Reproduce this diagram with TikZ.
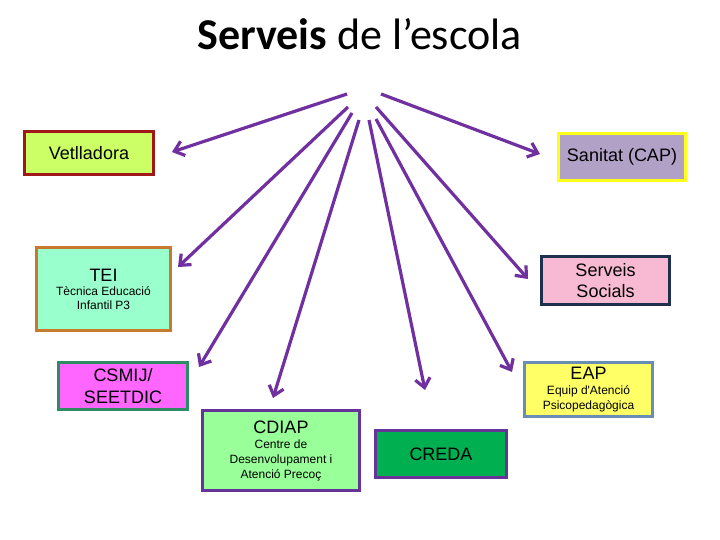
\documentclass[tikz,border=0pt]{standalone}
\usepackage{fontspec}
\setmainfont{Liberation Sans}
\newfontfamily\titlefont{Carlito}
\usepackage{xcolor}
\definecolor{purple1}{HTML}{7030A0}
\definecolor{lime1}{HTML}{CCFF66}
\definecolor{maroon1}{HTML}{A01818}
\definecolor{lilac1}{HTML}{B2A1C7}
\definecolor{yellow1}{HTML}{FFFF1A}
\definecolor{aqua1}{HTML}{99FFCC}
\definecolor{orange1}{HTML}{C8792E}
\definecolor{pink1}{HTML}{F8B9D2}
\definecolor{navy1}{HTML}{1F2F4F}
\definecolor{magenta1}{HTML}{FF66FF}
\definecolor{green1}{HTML}{2E8B62}
\definecolor{mint1}{HTML}{99FF99}
\definecolor{green2}{HTML}{00B050}
\definecolor{plum1}{HTML}{663399}
\definecolor{lemon1}{HTML}{FFFF66}
\definecolor{steel1}{HTML}{6A8DB5}
\usetikzlibrary{arrows.meta}
\newcommand{\subf}{\fontsize{12}{14}\selectfont}

\begin{document}
\begin{tikzpicture}[
  x=1pt, y=-1pt,
  svc/.style 2 args = {draw=#1, fill=#2, line width=3pt, inner sep=2pt,
                       align=center, text=black,
                       font=\fontsize{18}{21.5}\selectfont},
  svcsub/.style 2 args = {svc={#1}{#2}, font=\fontsize{18}{16}\selectfont},
  arr/.style    = {draw=purple1, line width=3.2pt,
                   -{Straight Barb[length=9pt, width=15pt]}}
]
\path[fill=white] (0,0) rectangle (720,540);
\useasboundingbox (0,0) rectangle (720,540);

% Title
\node[anchor=base, font=\titlefont\fontsize{44}{48}\selectfont]
      (title) at (359.5,50) {\textbf{Serveis} de l’escola};

% Services (left column)
\node[svc={maroon1}{lime1}, minimum width=129pt, minimum height=43pt]
      (vet) at (89,153) {Vetlladora};
\node[svcsub={orange1}{aqua1}, minimum width=134pt, minimum height=83pt]
      (tei) at (103.5,289) {TEI\\[-2pt]\subf Tècnica Educació\\[-2pt]\subf Infantil P3};
\node[svc={green1}{magenta1}, minimum width=129pt, minimum height=47pt]
      (csmij) at (123,386) {CSMIJ/\\SEETDIC};
\node[svcsub={plum1}{mint1}, minimum width=157pt, minimum height=80pt]
      (cdiap) at (281,450.5) {CDIAP\\[-1pt]\subf Centre de\\[-1pt]\subf Desenvolupament i\\[-1pt]\subf Atenció Precoç};

% Services (right column)
\node[svc={yellow1}{lilac1}, minimum width=127pt, minimum height=47pt]
      (cap) at (622,157) {Sanitat (CAP)};
\node[svc={navy1}{pink1}, minimum width=128pt, minimum height=48pt]
      (ss) at (605.5,280.5) {Serveis\\Socials};
\node[svcsub={steel1}{lemon1}, minimum width=128pt, minimum height=54pt]
      (eap) at (588.5,389.5) {EAP\\[-1pt]\subf Equip d\textquotesingle Atenció\\[-1pt]\subf Psicopedagògica};
\node[svc={plum1}{green2}, minimum width=131pt, minimum height=47pt]
      (creda) at (441,454) {CREDA};

% Arrow ends (start below the title, tips short of the boxes)
\coordinate (o-vet)   at (347,94);   \coordinate (e-vet)   at (172,152);
\coordinate (o-cap)   at (381,94);   \coordinate (e-cap)   at (540,154);
\coordinate (o-tei)   at (348,107);  \coordinate (e-tei)   at (178,267);
\coordinate (o-ss)    at (376,107);  \coordinate (e-ss)    at (528,279);
\coordinate (o-csmij) at (352,113);  \coordinate (e-csmij) at (199,367);
\coordinate (o-cdiap) at (359,120);  \coordinate (e-cdiap) at (273,398);
\coordinate (o-creda) at (369,120);  \coordinate (e-creda) at (425,390);
\coordinate (o-eap)   at (376,119);  \coordinate (e-eap)   at (512,372);

% Arrows
\foreach \s in {vet, cap, tei, ss, csmij, cdiap, creda, eap}
  \draw[arr] (o-\s) -- (e-\s);

\end{tikzpicture}
\end{document}
